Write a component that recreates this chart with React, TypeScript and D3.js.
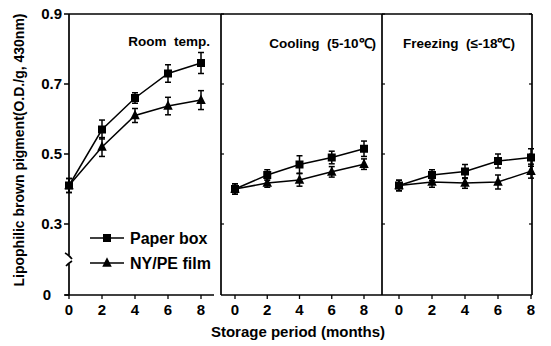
import React from "react";
import * as d3 from "d3";

const months = [0, 2, 4, 6, 8];
const panelTitles = ["Room  temp.", "Cooling  (5-10\u2103)", "Freezing  (\u2264-18\u2103)"];
const paperBox = [
  [0.41, 0.57, 0.66, 0.73, 0.76],
  [0.40, 0.44, 0.47, 0.49, 0.515],
  [0.41, 0.44, 0.45, 0.48, 0.49],
];
const paperErr = [
  [0.02, 0.027, 0.015, 0.025, 0.03],
  [0.015, 0.015, 0.025, 0.018, 0.022],
  [0.015, 0.015, 0.02, 0.02, 0.025],
];
const nyFilm = [
  [0.41, 0.52, 0.61, 0.637, 0.654],
  [0.40, 0.417, 0.426, 0.449, 0.471],
  [0.41, 0.42, 0.417, 0.42, 0.451],
];
const nyErr = [
  [0.02, 0.027, 0.02, 0.025, 0.027],
  [0.015, 0.012, 0.018, 0.015, 0.015],
  [0.015, 0.015, 0.015, 0.02, 0.02],
];
const yTicks = [0.3, 0.5, 0.7, 0.9];
const legendLabels = ["Paper box", "NY/PE film"];

const FONT = "'Liberation Sans', Arial, sans-serif";

export default function App() {
  const top = 14;
  const bottom = 295;
  const y = d3.scaleLinear().domain([0.2, 0.9]).range([259, top]);
  const panels = [
    { left: 69, right: 221, x: d3.scaleLinear().domain([0, 8]).range([69, 201]) },
    { left: 221, right: 382, x: d3.scaleLinear().domain([0, 8]).range([235, 364]) },
    { left: 382, right: 532, x: d3.scaleLinear().domain([0, 8]).range([399, 531]) },
  ];
  const titleX = [210, 376, 515];
  const line = (xs: d3.ScaleLinear<number, number>) =>
    d3.line<number>().x((_, i) => xs(months[i])).y((v) => y(v));
  const sq = 8;
  const tri = (cx: number, cy: number, s = 9.5) =>
    `M${cx},${cy - s * 0.6} L${cx + s / 2},${cy + s * 0.4} L${cx - s / 2},${cy + s * 0.4} Z`;

  const errBar = (cx: number, v: number, e: number, k: string) => (
    <g key={k} stroke="#000" strokeWidth={1.5}>
      <line x1={cx} x2={cx} y1={y(v + e)} y2={y(v - e)} />
      <line x1={cx - 3} x2={cx + 3} y1={y(v + e)} y2={y(v + e)} />
      <line x1={cx - 3} x2={cx + 3} y1={y(v - e)} y2={y(v - e)} />
    </g>
  );

  return (
    <svg
      width={551}
      height={346}
      style={{ position: "absolute", left: 0, top: 0, background: "#fff" }}
      fontFamily={FONT}
    >
      <rect width={551} height={346} fill="#fff" />
      {/* frame */}
      <g stroke="#000" strokeWidth={1.7} fill="none">
        <line x1={69} x2={532} y1={top} y2={top} />
        <line x1={69} x2={69} y1={top} y2={255} />
        <line x1={69} x2={69} y1={264} y2={bottom} />
        <path d="M65,253 Q69,255 72,259" />
        <path d="M66,266 Q69,263 72,261" />
        <line x1={65} x2={214} y1={bottom} y2={bottom} />
        <line x1={221} x2={532} y1={bottom} y2={bottom} />
        <line x1={221} x2={221} y1={top} y2={bottom} />
        <line x1={382} x2={382} y1={top} y2={bottom} />
        <line x1={532} x2={532} y1={top} y2={bottom} />
      </g>
      {/* y ticks */}
      {yTicks.map((t) => (
        <g key={t}>
          <line x1={64} x2={69} y1={y(t)} y2={y(t)} stroke="#000" strokeWidth={1.5} />
          <line x1={221} x2={224} y1={y(t)} y2={y(t)} stroke="#000" strokeWidth={1.2} />
          <line x1={382} x2={385} y1={y(t)} y2={y(t)} stroke="#000" strokeWidth={1.2} />
          <line x1={529} x2={532} y1={y(t)} y2={y(t)} stroke="#000" strokeWidth={1.2} />
          <text x={62} y={y(t)} dy="0.36em" textAnchor="end" fontSize={15} fontWeight="bold">
            {t.toFixed(1)}
          </text>
        </g>
      ))}
      <line x1={64} x2={69} y1={bottom} y2={bottom} stroke="#000" strokeWidth={1.5} />
      <text x={47} y={bottom} dy="0.36em" textAnchor="middle" fontSize={15} fontWeight="bold">
        0
      </text>
      {/* panels */}
      {panels.map((p, pi) => (
        <g key={pi}>
          {months.map((m) => (
            <g key={m}>
              <line x1={p.x(m)} x2={p.x(m)} y1={bottom} y2={bottom + 4} stroke="#000" strokeWidth={1.3} />
              <text x={p.x(m)} y={315} textAnchor="middle" fontSize={15} fontWeight="bold">
                {m}
              </text>
            </g>
          ))}
          <text
            x={titleX[pi]}
            y={pi === 0 ? 46 : 48}
            textAnchor="end"
            fontSize={13.5}
            fontWeight="bold"
            xmlSpace="preserve"
          >
            {panelTitles[pi]}
          </text>
          <path d={line(p.x)(paperBox[pi]) || ""} fill="none" stroke="#000" strokeWidth={1.5} />
          <path d={line(p.x)(nyFilm[pi]) || ""} fill="none" stroke="#000" strokeWidth={1.5} />
          {months.map((m, i) => errBar(p.x(m), paperBox[pi][i], paperErr[pi][i], "pe" + i))}
          {months.map((m, i) => errBar(p.x(m), nyFilm[pi][i], nyErr[pi][i], "ne" + i))}
          {months.map((m, i) => (
            <rect
              key={"s" + i}
              x={p.x(m) - sq / 2}
              y={y(paperBox[pi][i]) - sq / 2}
              width={sq}
              height={sq}
              fill="#000"
            />
          ))}
          {months.map((m, i) => (
            <path key={"t" + i} d={tri(p.x(m), y(nyFilm[pi][i]))} fill="#000" />
          ))}
        </g>
      ))}
      {/* legend */}
      <g>
        <line x1={90} x2={124} y1={238} y2={238} stroke="#000" strokeWidth={1.5} />
        <rect x={107 - sq / 2} y={238 - sq / 2} width={sq} height={sq} fill="#000" />
        <text x={130} y={238} dy="0.36em" fontSize={16} fontWeight="bold">
          {legendLabels[0]}
        </text>
        <line x1={90} x2={124} y1={263} y2={263} stroke="#000" strokeWidth={1.5} />
        <path d={tri(107, 263)} fill="#000" />
        <text x={130} y={263} dy="0.36em" fontSize={16} fontWeight="bold">
          {legendLabels[1]}
        </text>
      </g>
      {/* axis labels */}
      <text
        transform="translate(24,150) rotate(-90)"
        textAnchor="middle"
        fontSize={14}
        fontWeight="bold"
      >
        Lipophilic brown pigment(O.D./g, 430nm)
      </text>
      <text x={298} y={337} textAnchor="middle" fontSize={15} fontWeight="bold">
        Storage period (months)
      </text>
    </svg>
  );
}
